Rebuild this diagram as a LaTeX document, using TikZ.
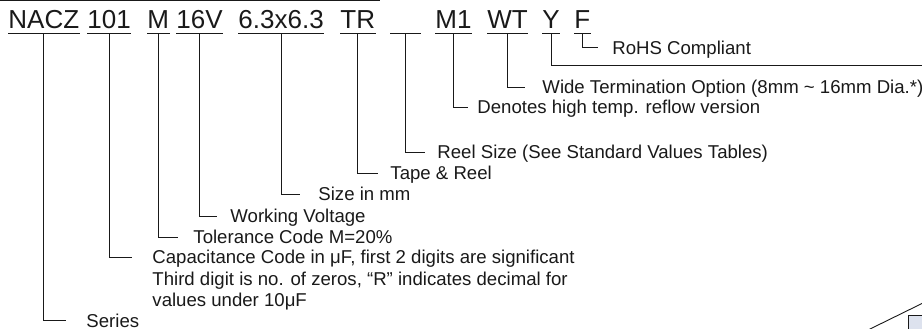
\documentclass[tikz,border=0pt]{standalone}
\usepackage{fontspec}
\setmainfont{Liberation Sans}
\usetikzlibrary{positioning}

\begin{document}
\begin{tikzpicture}[x=1pt, y=-1pt, line width=0.9pt, color={black!90}]
\tikzstyle{code} = [anchor=base west, inner xsep=0pt, inner ysep=4pt, text depth=0pt, font=\fontsize{26}{26}\selectfont]
\tikzstyle{desc} = [inner sep=0pt, anchor=west, text height=13.3pt, text depth=0pt, font=\fontsize{18.6}{20}\selectfont]
\tikzstyle{uline} = [line width=1.1pt]
\useasboundingbox (0,0) rectangle (922,329);

    % the part number, field by field
    \node [code] (series_code) at (8,29) {NACZ};
    \node [code] (cap_code) at (87,29) {101};
    \node [code] (tol_code) at (147,29) {M};
    \node [code] (volt_code) at (176,29) {16V};
    \node [code] (size_code) at (238,29) {6.3x6.3};
    \node [code] (tape_code) at (340,29) {TR};
    \node [code, minimum width=30pt] (reel_code) at (390,29) {};
    \node [code] (temp_code) at (435,29) {M1};
    \node [code] (wide_code) at (487,29) {WT};
    \node [code] (y_code) at (542,29) {Y};
    \node [code] (rohs_code) at (574,29) {F};

    \foreach \f in {series_code,cap_code,tol_code,volt_code,size_code,tape_code,reel_code,temp_code,wide_code,y_code,rohs_code}
        \draw [uline] (\f.south west) -- (\f.south east);

    % the explanations
    \node [desc] (rohs_txt) at (612,47.5) {RoHS Compliant};
    \coordinate (y_end) at (922,65);
    \node [desc] (wide_txt) at (542,87) {Wide Termination Option (8mm \textasciitilde{} 16mm Dia.*)};
    \node [desc] (temp_txt) at (477,107) {Denotes high temp. reflow version};
    \node [desc] (reel_txt) at (437,152) {Reel Size (See Standard Values Tables)};
    \node [desc] (tape_txt) at (390,173) {Tape \& Reel};
    \node [desc] (size_txt) at (318,194) {Size in mm};
    \node [desc] (volt_txt) at (230,216) {Working Voltage};
    \node [desc] (tol_txt) at (193,237) {Tolerance Code M=20\%};
    \node [desc] (cap_txt) at (152,257) {Capacitance Code in μF, first 2 digits are significant};
    \node [desc, below=7.2pt of cap_txt.south west, anchor=north west] (cap_txt2) {Third digit is no. of zeros, “R” indicates decimal for};
    \node [desc, below=7.2pt of cap_txt2.south west, anchor=north west] (cap_txt3) {values under 10μF};
    \node [desc] (series_txt) at (86,320.5) {Series};

    % leaders from each field down to its text
    \draw (rohs_code.south) |- ([xshift=-14pt]rohs_txt.west);
    \draw (y_code.south) |- (y_end);
    \draw (wide_code.south) |- ([xshift=-17pt]wide_txt.west);
    \draw (temp_code.south) |- ([xshift=-9pt]temp_txt.west);
    \draw (reel_code.south) |- ([xshift=-12pt]reel_txt.west);
    \draw (tape_code.south) |- ([xshift=-12pt]tape_txt.west);
    \draw (size_code.south) |- ([xshift=-18pt]size_txt.west);
    \draw (volt_code.south) |- ([xshift=-13pt]volt_txt.west);
    \draw (tol_code.south) |- ([xshift=-15pt]tol_txt.west);
    \draw (cap_code.south) |- ([xshift=-20pt]cap_txt.west);
    \draw (series_code.south) |- ([xshift=-20pt]series_txt.west);

    % pieces of the neighbouring drawings cut by the page edge
    \draw [line width=1.5pt] (0,0.75) -- (380,0.75);
    \draw (868,330) -- (924,302.5);
    \draw [fill={rgb,255:red,221;green,226;blue,238}] (908,315) rectangle (932,340);
\end{tikzpicture}
\end{document}
